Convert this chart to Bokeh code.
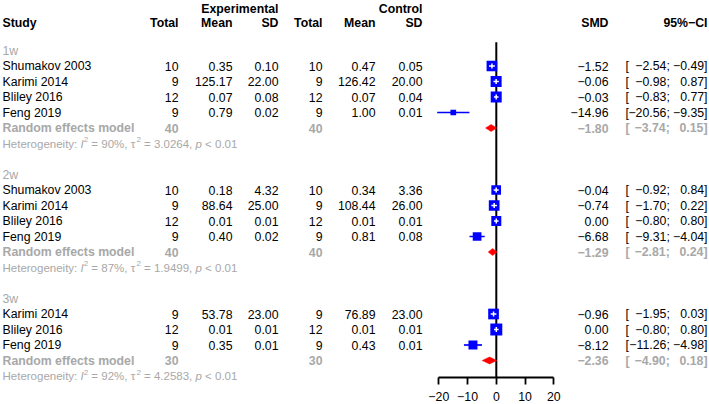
from bokeh.plotting import figure
from bokeh.models import Range1d, LinearAxis, FixedTicker, ColumnDataSource
from bokeh.embed import file_html
from bokeh.resources import INLINE
from bokeh.core.properties import value

# ---------------- data ----------------
subgroups = ["1w", "2w", "3w"]

study_1w = ["Shumakov  2003", "Karimi 2014", "Bliley  2016", "Feng 2019"]
e_total_1w = [10, 9, 12, 9]
e_mean_1w = [0.35, 125.17, 0.07, 0.79]
e_sd_1w = [0.10, 22.00, 0.08, 0.02]
c_total_1w = [10, 9, 12, 9]
c_mean_1w = [0.47, 126.42, 0.07, 1.00]
c_sd_1w = [0.05, 20.00, 0.04, 0.01]
smd_1w = [-1.52, -0.06, -0.03, -14.96]
lo_1w = [-2.54, -0.98, -0.83, -20.56]
hi_1w = [-0.49, 0.87, 0.77, -9.35]
weight_1w = [10.3, 10.9, 10.9, 2.9]

study_2w = ["Shumakov  2003", "Karimi 2014", "Bliley  2016", "Feng 2019"]
e_total_2w = [10, 9, 12, 9]
e_mean_2w = [0.18, 88.64, 0.01, 0.40]
e_sd_2w = [4.32, 25.00, 0.01, 0.02]
c_total_2w = [10, 9, 12, 9]
c_mean_2w = [0.34, 108.44, 0.01, 0.81]
c_sd_2w = [3.36, 26.00, 0.01, 0.08]
smd_2w = [-0.04, -0.74, 0.00, -6.68]
lo_2w = [-0.92, -1.70, -0.80, -9.31]
hi_2w = [0.84, 0.22, 0.80, -4.04]
weight_2w = [8.4, 10.3, 9.0, 6.8]

study_3w = ["Karimi 2014", "Bliley  2016", "Feng 2019"]
e_total_3w = [9, 12, 9]
e_mean_3w = [53.78, 0.01, 0.35]
e_sd_3w = [23.00, 0.01, 0.01]
c_total_3w = [9, 12, 9]
c_mean_3w = [76.89, 0.01, 0.43]
c_sd_3w = [23.00, 0.01, 0.01]
smd_3w = [-0.96, 0.00, -8.12]
lo_3w = [-1.95, -0.80, -11.26]
hi_3w = [0.03, 0.80, -4.98]
weight_3w = [10.3, 12.9, 7.3]

re_e_total = [40, 40, 30]
re_c_total = [40, 40, 30]
re_smd = [-1.80, -1.29, -2.36]
re_lo = [-3.74, -2.81, -4.90]
re_hi = [0.15, 0.24, 0.18]
het_i2 = [90, 87, 92]
het_tau2 = [3.0264, 1.9499, 4.2583]
het_p = ["< 0.01", "< 0.01", "< 0.01"]

axis_ticks = [-20, -10, 0, 10, 20]

groups = [
    dict(study=study_1w, et=e_total_1w, em=e_mean_1w, es=e_sd_1w, ct=c_total_1w, cm=c_mean_1w, cs=c_sd_1w,
         smd=smd_1w, lo=lo_1w, hi=hi_1w, w=weight_1w),
    dict(study=study_2w, et=e_total_2w, em=e_mean_2w, es=e_sd_2w, ct=c_total_2w, cm=c_mean_2w, cs=c_sd_2w,
         smd=smd_2w, lo=lo_2w, hi=hi_2w, w=weight_2w),
    dict(study=study_3w, et=e_total_3w, em=e_mean_3w, es=e_sd_3w, ct=c_total_3w, cm=c_mean_3w, cs=c_sd_3w,
         smd=smd_3w, lo=lo_3w, hi=hi_3w, w=weight_3w),
]

# ---------------- layout / style ----------------
FONT = "Liberation Sans"
FS = 12.3
FS_HET = 11.5
GREY = "#A8A8A8"
BLUE = "#0000FF"
RED = "#FF0000"
ROW_PX = 15.5
PX_PER_UNIT = 2.875
ZERO_PX = 495.8

W, H = 709, 404
# page y = 50 + ROW_PX * row
row_top = (0 - 50) / ROW_PX
row_bot = (H - 50) / ROW_PX
# page x = ZERO_PX + PX_PER_UNIT * smd
smd_left = (0 - ZERO_PX) / PX_PER_UNIT
smd_right = (W - ZERO_PX) / PX_PER_UNIT
axis_row = (376.7 - 50) / ROW_PX
vline_top = (41.7 - 50) / ROW_PX

X_STUDY, X_ET, X_EM, X_ES, X_CT, X_CM, X_CS = 2, 178, 232, 278, 322, 375, 422
X_SMD, X_CI_OPEN, X_CI_SEMI, X_CI_CLOSE = 608, 624.9, 669.3, 707

p = figure(width=W, height=H, x_range=Range1d(0, W), y_range=Range1d(row_bot, row_top),
           output_backend="svg", toolbar_location=None, x_axis_type=None, y_axis_type=None,
           min_border=0, min_border_left=0, min_border_right=0, min_border_top=0, min_border_bottom=0,
           outline_line_color=None, background_fill_color="white", border_fill_color="white")
p.xgrid.visible = False
p.ygrid.visible = False
p.extra_x_ranges = {"smd": Range1d(smd_left, smd_right)}


def f2(v):
    return f"{v:.2f}".replace("-", "\u2212")


texts = {}


def txt(x, y, s, align="right", style="normal", color="black", size=FS, yoff=0):
    key = (align, style, color, size, yoff)
    d = texts.setdefault(key, {"x": [], "y": [], "t": []})
    d["x"].append(x)
    d["y"].append(y)
    d["t"].append(s)


# Arial / Liberation Sans advance widths (per 1000 em)
AW = {' ': 278, '.': 278, ',': 278, ':': 278, ';': 278, '%': 889, '=': 584, '<': 584, '\u2212': 584,
      'H': 722, 'e': 556, 't': 278, 'r': 333, 'o': 556, 'g': 556, 'n': 556, 'i': 222, 'y': 500,
      'I': 278, 'p': 556, '\u03c4': 500}


def tw(s, size):
    return sum(AW.get(c, 556) for c in s) / 1000.0 * size


# headers
HDR1 = (8 - 50) / ROW_PX
HDR2 = (22 - 50) / ROW_PX
txt(X_ES, HDR1, "Experimental", style="bold")
txt(X_CS, HDR1, "Control", style="bold")
txt(X_STUDY, HDR2, "Study", align="left", style="bold")
for x, s in [(X_ET, "Total"), (X_EM, "Mean"), (X_ES, "SD"), (X_CT, "Total"), (X_CM, "Mean"),
             (X_CS, "SD"), (X_SMD, "SMD"), (X_CI_CLOSE, "95%\u2212CI")]:
    txt(x, HDR2, s, style="bold")

seg_blue = {"x0": [], "x1": [], "y0": [], "y1": []}
seg_white = {"x0": [], "x1": [], "y0": [], "y1": []}
sq = {"x": [], "y": [], "s": []}
dia = {"xs": [], "ys": []}

SQ_SCALE = 3.334  # px per sqrt(weight %)
DIA_HALF = 3.5 / ROW_PX
PLUS_HALF = 2.5 / ROW_PX

r = 0
for gi, g in enumerate(groups):
    txt(X_STUDY, r, subgroups[gi], align="left", color=GREY)
    n = len(g["study"])
    for i in range(n):
        y = r + 1 + i
        txt(X_STUDY, y, g["study"][i], align="left")
        txt(X_ET, y, str(g["et"][i]))
        txt(X_EM, y, f2(g["em"][i]))
        txt(X_ES, y, f2(g["es"][i]))
        txt(X_CT, y, str(g["ct"][i]))
        txt(X_CM, y, f2(g["cm"][i]))
        txt(X_CS, y, f2(g["cs"][i]))
        txt(X_SMD, y, f2(g["smd"][i]))
        txt(X_CI_OPEN, y, "[", align="left")
        txt(X_CI_SEMI, y, f2(g["lo"][i]) + ";")
        txt(X_CI_CLOSE, y, f2(g["hi"][i]) + "]")
        side = SQ_SCALE * g["w"][i] ** 0.5
        sq["x"].append(g["smd"][i]); sq["y"].append(y); sq["s"].append(side)
        ci_px = (g["hi"][i] - g["lo"][i]) * PX_PER_UNIT
        if ci_px < side:
            tgt = seg_white
            seg_white["x0"].append(g["smd"][i]); seg_white["x1"].append(g["smd"][i])
            seg_white["y0"].append(y - PLUS_HALF); seg_white["y1"].append(y + PLUS_HALF)
        else:
            tgt = seg_blue
        tgt["x0"].append(g["lo"][i]); tgt["x1"].append(g["hi"][i])
        tgt["y0"].append(y); tgt["y1"].append(y)
    y = r + n + 1
    txt(X_STUDY, y, "Random effects model", align="left", style="bold", color=GREY)
    txt(X_ET, y, str(re_e_total[gi]), style="bold", color=GREY)
    txt(X_CT, y, str(re_c_total[gi]), style="bold", color=GREY)
    txt(X_SMD, y, f2(re_smd[gi]), style="bold", color=GREY)
    txt(X_CI_OPEN, y, "[", align="left", style="bold", color=GREY)
    txt(X_CI_SEMI, y, f2(re_lo[gi]) + ";", style="bold", color=GREY)
    txt(X_CI_CLOSE, y, f2(re_hi[gi]) + "]", style="bold", color=GREY)
    dia["xs"].append([re_lo[gi], re_smd[gi], re_hi[gi], re_smd[gi]])
    dia["ys"].append([y, y - DIA_HALF, y, y + DIA_HALF])
    # heterogeneity line, piecewise
    y = r + n + 2
    sup = 8.0
    x = X_STUDY
    pieces = [
        ("Heterogeneity:", "normal", FS_HET, 0, " "),
        ("I", "italic", FS_HET, 0, ""),
        ("2", "normal", sup, -4, " "),
        (f"= {het_i2[gi]}%, \u03c4", "normal", FS_HET, 0, ""),
        ("2", "normal", sup, -4, " "),
        (f"= {het_tau2[gi]:.4f},", "normal", FS_HET, 0, " "),
        ("p", "italic", FS_HET, 0, " "),
        (het_p[gi], "normal", FS_HET, 0, ""),
    ]
    for s, st, sz, yo, trail in pieces:
        txt(x, y, s, align="left", style=st, color=GREY, size=sz, yoff=yo)
        x += tw(s, sz) + tw(trail, FS_HET)
    r += n + 4

# zero line
p.segment(x0=[0], x1=[0], y0=[vline_top], y1=[axis_row], x_range_name="smd",
          line_color="black", line_width=2)
# blue CI lines
p.segment(x0="x0", x1="x1", y0="y0", y1="y1", source=ColumnDataSource(seg_blue), x_range_name="smd",
          line_color=BLUE, line_width=1.7)
# squares
p.scatter(x="x", y="y", size="s", marker="square", source=ColumnDataSource(sq), x_range_name="smd",
          fill_color=BLUE, line_color=None)
# white inner lines
p.segment(x0="x0", x1="x1", y0="y0", y1="y1", source=ColumnDataSource(seg_white), x_range_name="smd",
          line_color="white", line_width=1.5)
# diamonds
p.patches(xs="xs", ys="ys", source=ColumnDataSource(dia), x_range_name="smd",
          fill_color=RED, line_color=RED, line_width=0.5)

for (align, style, color, size, yoff), d in texts.items():
    p.text(x="x", y="y", text="t", source=ColumnDataSource(d), text_align=align, text_baseline="middle",
           text_font=value(FONT), text_font_size=value(f"{size}px"), text_font_style=style,
           text_color=color, y_offset=yoff)

ax = LinearAxis(x_range_name="smd", fixed_location=axis_row, bounds=(-20, 20),
                ticker=FixedTicker(ticks=axis_ticks))
ax.major_label_overrides = {t: (str(t).replace("-", "\u2212")) for t in axis_ticks}
ax.axis_line_color = "black"
ax.axis_line_width = 1.8
ax.major_tick_line_color = "black"
ax.major_tick_line_width = 1.8
ax.major_tick_out = 7
ax.major_tick_in = 0
ax.minor_tick_out = 0
ax.minor_tick_in = 0
ax.major_label_standoff = 8
ax.major_label_text_font = FONT
ax.major_label_text_font_size = f"{FS}px"
ax.major_label_text_color = "black"
p.add_layout(ax, "below")

open("out.html", "w").write(file_html(p, INLINE))
